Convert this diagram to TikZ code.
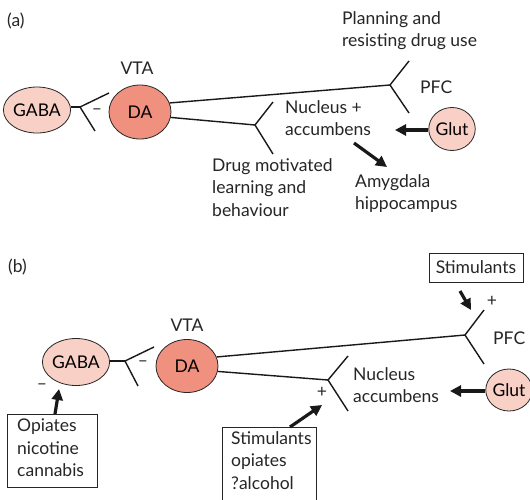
\documentclass[tikz,border=0pt]{standalone}
\usepackage{fontspec}
\setmainfont{Lato}
\usetikzlibrary{arrows.meta,shapes.geometric}
\definecolor{dafill}{RGB}{240,145,128}
\definecolor{lightfill}{RGB}{249,208,198}
\tikzset{
  txt/.style={inner sep=0pt, font=\fontsize{17.5}{22.5}\selectfont, text=black!85},
  blk/.style={txt, align=left, anchor=north west},
  cell/.style={draw=black!85, ellipse, inner sep=0pt, line width=0.8pt, font=\fontsize{17.5}{20}\selectfont},
  syn/.style={line width=1.4pt, draw=black!90},
  fat/.style={line width=3.2pt, draw=black!90, -{Triangle[length=11pt,width=11pt]}},
  box/.style={draw=black!85, line width=0.8pt, inner sep=0pt}
}
\begin{document}
\begin{tikzpicture}[x=1pt,y=-1pt]
\clip (0,0) rectangle (530,499);
\useasboundingbox (0,0) rectangle (530,499);
\fill[white] (0,0) rectangle (530,499);

% ---------- (a) ----------
\node[txt, anchor=base west] (labA) at (7,26) {(a)};
\node[cell, fill=lightfill, minimum width=60pt, minimum height=46pt] (gabaA) at (37,110) {GABA};
\node[cell, fill=dafill, minimum width=62pt, minimum height=54pt] (daA) at (140,112) {DA};
\node[cell, fill=lightfill, minimum width=43pt, minimum height=43pt] (glutA) at (452,129) {Glut};
\node[txt, anchor=base] (vtaA) at (137,74) {VTA};
\node[txt, anchor=base west] (pfcA) at (420,93) {PFC};
\node[txt, anchor=center] (minA) at (97,112) {–};
\node[blk] (planA) at (342,11) {Planning and\\resisting drug use};
\node[blk] (nacA) at (285,100) {Nucleus +\\accumbens};
\node[blk] (drugA) at (212,158) {Drug motivated\\learning and\\behaviour};
\node[blk] (amyA) at (355,174) {Amygdala\\hippocampus};

\coordinate (sgA) at (80,107);
\coordinate (sgAu) at (109,93);
\coordinate (sgAl) at (95,131);
\draw[syn] (sgA -| gabaA.east) -- (sgA);
\draw[syn] (sgAu) -- (sgA) -- (sgAl);

\coordinate (pfcjA) at (390,85);
\coordinate (pfcuA) at (409,61);
\coordinate (pfclA) at (409,113);
\draw[syn] (daA.17) -- (pfcjA);
\draw[syn] (pfcuA) -- (pfcjA) -- (pfclA);

\coordinate (nacjA) at (255,125);
\coordinate (nacuA) at (273,102);
\coordinate (naclA) at (273,154);
\draw[syn] (daA.-10) -- (nacjA);
\draw[syn] (nacuA) -- (nacjA) -- (naclA);

\coordinate (gtA) at (395,130);
\draw[fat] (glutA.west |- gtA) -- (gtA);
\coordinate (amfA) at (354,143);
\coordinate (amtA) at (387,167);
\draw[fat] (amfA) -- (amtA);

% ---------- (b) ----------
\node[txt, anchor=base west] (labB) at (8,272) {(b)};
\node[cell, fill=lightfill, minimum width=60pt, minimum height=47pt] (gabaB) at (76,362) {GABA};
\node[cell, fill=dafill, minimum width=62pt, minimum height=53pt] (daB) at (187,366) {DA};
\node[cell, fill=lightfill, minimum width=42pt, minimum height=42pt] (glutB) at (509,390) {Glut};
\node[txt, anchor=base] (vtaB) at (187,331) {VTA};
\node[txt, anchor=base west] (pfcB) at (493,344) {PFC};
\node[txt, anchor=center] (minB) at (143,364) {–};
\node[txt, anchor=center] (minC) at (42,387) {–};
\node[txt, anchor=center] (plusP) at (492,301) {+};
\node[txt, anchor=center] (plusN) at (322,392) {+};
\node[blk] (nacB) at (353,367) {Nucleus\\accumbens};

\node[box, minimum width=94pt, minimum height=29pt, txt] (stimB) at (476,267.5) {Stimulants};
\node[box, minimum width=90pt, minimum height=73pt] (opB) at (52,450.5) {};
\node[blk] (opT) at (17,419) {Opiates\\nicotine\\cannabis};
\node[box, minimum width=94pt, minimum height=90pt] (soB) at (269,472) {};
\node[blk] (soT) at (231,431) {Stimulants\\opiates\\?alcohol};

\coordinate (sgB) at (125,361);
\coordinate (sgBu) at (154,347);
\coordinate (sgBl) at (138,386);
\draw[syn] (sgB -| gabaB.east) -- (sgB);
\draw[syn] (sgBu) -- (sgB) -- (sgBl);

\coordinate (pfcjB) at (465,335);
\coordinate (pfcuB) at (484,310);
\coordinate (pfclB) at (484,364);
\draw[syn] (daB.17) -- (pfcjB);
\draw[syn] (pfcuB) -- (pfcjB) -- (pfclB);

\coordinate (nacjB) at (328,380);
\coordinate (nacuB) at (348,356);
\coordinate (naclB) at (348,411);
\draw[syn] (daB.-10) -- (nacjB);
\draw[syn] (nacuB) -- (nacjB) -- (naclB);

\coordinate (gtB) at (450,391);
\draw[fat] (glutB.west |- gtB) -- (gtB);

\coordinate (stfB) at (460,291);
\coordinate (sttB) at (471,310);
\draw[fat] (stfB) -- (sttB);

\coordinate (opfB) at (55,414);
\coordinate (optB) at (59,389);
\draw[fat] (opfB) -- (optB);

\coordinate (sofB) at (290,427);
\coordinate (sotB) at (322,405);
\draw[fat] (sofB) -- (sotB);
\end{tikzpicture}
\end{document}
